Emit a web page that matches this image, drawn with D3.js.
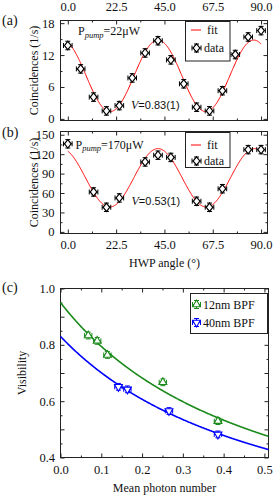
<!DOCTYPE html>
<html>
<head>
<meta charset="utf-8">
<script src="https://cdn.jsdelivr.net/npm/d3@7"></script>
<style>
  body { margin: 0; background: #fff; }
  svg text { font-family: 'Liberation Serif', 'DejaVu Serif', serif; }
  .frame { fill: none; stroke: #222; stroke-width: 1; }
  .tick line { stroke: #222; }
  .tick text { font-size: 12.5px; fill: #111; }
  .lbl { font-size: 12px; fill: #111; }
  .legend-box { fill: #fff; stroke: #222; stroke-width: 1; }
</style>
</head>
<body>
<svg width="275" height="503"></svg>
<script>
// (a) HWP scan at 22 uW
const anglesA = [0, 6, 12, 18, 24, 30, 36, 42, 48, 54, 60, 66, 72, 78, 84, 90];
const countsA = [13.8, 9.4, 4.1, 1.5, 2.5, 7.7, 12.4, 14.7, 11.1, 6.6, 2.2, 1.5, 5.3, 12.1, 15.4, 16.6];
// (b) HWP scan at 170 uW
const anglesB = [0, 12, 18, 24, 36, 42, 48, 60, 66, 72, 84, 90];
const countsB = [136, 61.6, 38, 52.4, 108, 118.4, 115, 47.3, 38, 66.6, 127, 127];
// error bars
const angleErr = 2;
const countsErrA = 0.8;
const countsErrB = 6.5;
// sinusoid fits: [mean, visibility, peak angle, period]
const fitParamsA = [8.1, 0.83, 42, 44.6];
const fitParamsB = [83.5, 0.54, 42, 45];

// (c) visibility vs mean photon number
const photon12 = [0.068, 0.090, 0.115, 0.251, 0.386];
const vis12 = [0.833, 0.814, 0.764, 0.667, 0.529];
const photon40 = [0.142, 0.164, 0.266, 0.386];
const vis40 = [0.651, 0.642, 0.565, 0.482];
const photonErr = 0.009;
const visErr = 0.012;
// fits V = V0 / (1 + k n): [V0, k]
const fitParams12 = [0.95, 1.96];
const fitParams40 = [0.83, 1.84];

const angleTicks = [0, 22.5, 45, 67.5, 90];
const angleMinor = [11.25, 33.75, 56.25, 78.75];

const SERIF = "'Liberation Serif', 'DejaVu Serif', serif";
const SANS = "'Liberation Sans', 'DejaVu Sans', sans-serif";

const svg = d3.select('svg');

const xA = d3.scaleLinear().domain([-3.4, 93]).range([60.5, 267.5]);
const yA = d3.scaleLinear().domain([-0.3, 18.5]).range([120.5, 20.5]);
const yB = d3.scaleLinear().domain([-2.5, 155]).range([233.5, 131.5]);
const xC = d3.scaleLinear().domain([0, 0.51]).range([60.5, 268.5]);
const yC = d3.scaleLinear().domain([0.4, 1.0]).range([457.5, 288.5]);

// frame + inward ticks on all four sides
const addAxes = (x, y, o) => {
  const [x0, x1] = x.range();
  const [y0, y1] = y.range();
  const g = svg.append('g');
  const put = (axis, tx, ty) => {
    const a = g.append('g').attr('transform', `translate(${tx},${ty})`).call(axis);
    a.select('.domain').remove();
    a.attr('font-family', SERIF).attr('font-size', 12.5);
    return a;
  };
  const fmtX = o.xLabels ? o.fmtX : () => '';
  put(d3.axisBottom(x).tickValues(o.xMajor).tickSize(-4).tickPadding(o.padBottom).tickFormat(fmtX), 0, y0);
  put(d3.axisBottom(x).tickValues(o.xMinor).tickSize(-2).tickFormat(''), 0, y0);
  put(d3.axisTop(x).tickValues(o.xMajor).tickSize(-4).tickPadding(o.padTop || 0)
    .tickFormat(o.topLabels ? o.fmtX : () => ''), 0, y1);
  put(d3.axisTop(x).tickValues(o.xMinor).tickSize(-2).tickFormat(''), 0, y1);
  put(d3.axisLeft(y).tickValues(o.yMajor).tickSize(-4).tickPadding(o.padLeft).tickFormat(o.fmtY), x0, 0);
  put(d3.axisLeft(y).tickValues(o.yMinor).tickSize(-2).tickFormat(''), x0, 0);
  put(d3.axisRight(y).tickValues(o.yMajor).tickSize(-4).tickFormat(''), x1, 0);
  put(d3.axisRight(y).tickValues(o.yMinor).tickSize(-2).tickFormat(''), x1, 0);
  g.append('rect').attr('class', 'frame')
    .attr('x', x0).attr('y', y1).attr('width', x1 - x0).attr('height', y0 - y1);
};

const fmt1 = d3.format('.1f');

addAxes(xA, yA, {
  xMajor: angleTicks, xMinor: angleMinor, xLabels: false, topLabels: true, fmtX: fmt1, padTop: 10,
  yMajor: [0, 6, 12, 18], yMinor: [3, 9, 15], fmtY: d3.format('d'), padLeft: 6, padBottom: 6
});
addAxes(xA, yB, {
  xMajor: angleTicks, xMinor: angleMinor, xLabels: true, topLabels: false, fmtX: fmt1, padBottom: 6.5,
  yMajor: [0, 30, 60, 90, 120, 150], yMinor: [15, 45, 75, 105, 135], fmtY: d3.format('d'), padLeft: 6
});
addAxes(xC, yC, {
  xMajor: [0, 0.1, 0.2, 0.3, 0.4, 0.5], xMinor: [0.05, 0.15, 0.25, 0.35, 0.45], xLabels: true,
  topLabels: false, fmtX: fmt1, padBottom: 7.5,
  yMajor: [0.4, 0.5, 0.6, 0.7, 0.8, 0.9, 1.0], yMinor: [0.45, 0.55, 0.65, 0.75, 0.85, 0.95],
  fmtY: d => (Math.round(d * 10) % 2 === 0 ? fmt1(d) : ''), padLeft: 5.5
});

// fit curves
const sine = p => t => p[0] * (1 + p[1] * Math.cos(2 * Math.PI * (t - p[2]) / p[3]));
const drawFit = (x, y, f, lo, hi, color, w) => {
  const pts = d3.range(lo, hi + (hi - lo) / 400, (hi - lo) / 400).map(t => [t, f(t)]);
  svg.append('path')
    .attr('d', d3.line().x(d => x(d[0])).y(d => y(d[1]))(pts))
    .attr('fill', 'none').attr('stroke', color).attr('stroke-width', w);
};
drawFit(xA, yA, sine(fitParamsA), 0, 90, '#f00', 1);
drawFit(xA, yB, sine(fitParamsB), 0, 90, '#f00', 1);
const decay = p => n => p[0] / (1 + p[1] * n);
drawFit(xC, yC, decay(fitParams12), 0, 0.51, '#1a8a1a', 1.6);
drawFit(xC, yC, decay(fitParams40), 0, 0.51, '#0000ff', 1.6);

// error bars with caps
const errBars = (g, cx, cy, xl, xr, yt, yb, color) => {
  const c = 2.5;
  g.append('path')
    .attr('d', `M${xl},${cy}H${xr}M${xl},${cy - c}V${cy + c}M${xr},${cy - c}V${cy + c}`
      + `M${cx},${yt}V${yb}M${cx - c},${yt}H${cx + c}M${cx - c},${yb}H${cx + c}`)
    .attr('fill', 'none').attr('stroke', color).attr('stroke-width', 1);
};
const diamond = (g, cx, cy) => {
  g.append('path')
    .attr('d', `M${cx},${cy - 4.2}L${cx + 3.3},${cy}L${cx},${cy + 4.2}L${cx - 3.3},${cy}Z`)
    .attr('fill', '#fff').attr('stroke', '#000').attr('stroke-width', 1.2);
};
const triangle = (g, cx, cy, color, down) => {
  g.append('path')
    .attr('d', d3.symbol(d3.symbolTriangle, 26)())
    .attr('transform', `translate(${cx},${cy})${down ? ' rotate(180)' : ''}`)
    .attr('fill', '#fff').attr('stroke', color).attr('stroke-width', 1.1);
};

const scanPoints = (xs, ys, y, yErr) => {
  const g = svg.append('g');
  xs.forEach((a, i) => {
    const cx = xA(a);
    const cy = y(ys[i]);
    errBars(g, cx, cy, xA(a - angleErr), xA(a + angleErr), y(ys[i] + yErr), y(ys[i] - yErr), '#000');
    diamond(g, cx, cy);
  });
};
scanPoints(anglesA, countsA, yA, countsErrA);
scanPoints(anglesB, countsB, yB, countsErrB);

const visPoints = (xs, ys, color, down) => {
  const g = svg.append('g');
  xs.forEach((n, i) => {
    const cx = xC(n);
    const cy = yC(ys[i]);
    errBars(g, cx, cy, xC(n - photonErr), xC(n + photonErr), yC(ys[i] + visErr), yC(ys[i] - visErr), color);
    triangle(g, cx, cy, color, down);
  });
};
visPoints(photon12, vis12, '#1a8a1a', false);
visPoints(photon40, vis40, '#0000ff', true);

// legends
const scanLegend = (top, bottom, fitY, dataY) => {
  const g = svg.append('g');
  g.append('rect').attr('class', 'legend-box')
    .attr('x', 185.5).attr('y', top).attr('width', 44.5).attr('height', bottom - top);
  g.append('line').attr('x1', 191).attr('x2', 201).attr('y1', fitY).attr('y2', fitY)
    .attr('stroke', '#f00').attr('stroke-width', 1);
  g.append('text').attr('class', 'lbl').attr('x', 207).attr('y', fitY + 4).text('fit');
  errBars(g, 196.5, dataY, 192, 201, dataY - 4, dataY + 4, '#000');
  diamond(g, 196.5, dataY);
  g.append('text').attr('class', 'lbl').attr('x', 204).attr('y', dataY + 4).text('data');
};
scanLegend(21.5, 61, 30, 48);
scanLegend(132.5, 167.5, 145, 161);

const visLegend = svg.append('g');
visLegend.append('rect').attr('class', 'legend-box')
  .attr('x', 190.5).attr('y', 293.5).attr('width', 77).attr('height', 40);
[['12nm BPF', '#1a8a1a', false, 304.5], ['40nm BPF', '#0000ff', true, 322.5]].forEach(([t, c, down, cy]) => {
  errBars(visLegend, 196.5, cy, 192.5, 200.5, cy - 4, cy + 4, c);
  triangle(visLegend, 196.5, cy, c, down);
  visLegend.append('text').attr('class', 'lbl').attr('x', 203).attr('y', cy + 4).text(t);
});

// annotations
const pumpText = (x, y, val) => {
  const t = svg.append('text').attr('class', 'lbl').attr('x', x).attr('y', y);
  t.append('tspan').text('P');
  t.append('tspan').attr('font-size', 8.5).attr('font-style', 'italic').attr('dy', 2.5).text('pump');
  t.append('tspan').attr('dy', -2.5).text(`=${val}\u03bcW`);
};
pumpText(78, 35, 22);
pumpText(75.5, 148.5, 170);

const visText = (x, y, val) => {
  const t = svg.append('text').attr('x', x).attr('y', y).attr('font-size', 11).attr('fill', '#111');
  t.append('tspan').attr('font-style', 'italic').attr('font-size', 12).text('V');
  t.append('tspan').style('font-family', SANS).text(`=${val}`);
};
visText(131, 109, '0.83(1)');
visText(131.5, 205, '0.53(1)');

// axis titles and panel letters
const title = (text, x, y, rot) => svg.append('text').attr('class', 'lbl')
  .attr('text-anchor', 'middle')
  .attr('transform', `translate(${x},${y})${rot ? ' rotate(-90)' : ''}`)
  .text(text);
title('Coincidences (1/s)', 37.5, 70.5, true);
title('Coincidences (1/s)', 37.5, 182.5, true);
title('HWP angle (°)', 164.5, 267, false);
title('Visibility', 26, 373, true);
title('Mean photon number', 164.5, 491.5, false);

[['(a)', 25], ['(b)', 137], ['(c)', 292]].forEach(([t, y]) => {
  svg.append('text').attr('x', 2).attr('y', y).attr('font-size', 14).attr('fill', '#111').text(t);
});
</script>
</body>
</html>
